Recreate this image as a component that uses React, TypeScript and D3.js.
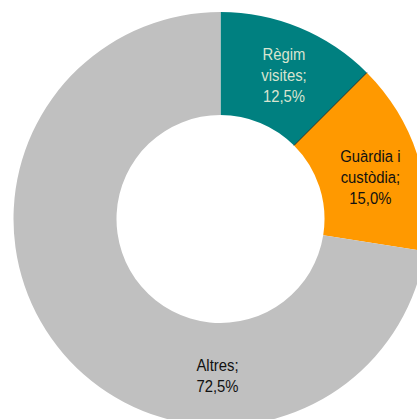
import React from "react";
import * as d3 from "d3";

const categories = ["Règim visites", "Guàrdia i custòdia", "Altres"];
const values = [12.5, 15.0, 72.5];
const valueLabels = ["12,5%", "15,0%", "72,5%"];
const labelLines = [["Règim", "visites;"], ["Guàrdia i", "custòdia;"], ["Altres;"]];
const colors = ["#008080", "#FF9900", "#C0C0C0"];
const labelColors = ["#D8E4D0", "#111111", "#111111"];

const W = 417;
const H = 419;
const cx = 220.5;
const cy = 219;
const rOuter = 207;
const rInner = 104;

export default function App() {
  const pie = d3.pie<number>().sort(null).value((d) => d)(values);
  const arc = d3.arc<d3.PieArcDatum<number>>().innerRadius(rInner).outerRadius(rOuter);
  const labelArc = d3.arc<d3.PieArcDatum<number>>().innerRadius(rInner).outerRadius(rOuter);
  const lineH = 21;

  // label anchor angle adjustments (Excel places the big slice label at the bottom)
  const labelPos = pie.map((p, i) => {
    if (i === 2) {
      const a = Math.PI; // bottom
      const r = 157;
      return [Math.sin(a) * r - 3, -Math.cos(a) * r];
    }
    const c = labelArc.centroid(p);
    return i === 0 ? [c[0] + 4, c[1]] : [c[0] + 2, c[1] + 6];
  });

  const boundary = pie[0].endAngle;

  return (
    <svg
      width={W}
      height={H}
      style={{ position: "absolute", left: 0, top: 0, background: "#fff" }}
      fontFamily="'Liberation Sans', Arial, sans-serif"
    >
      <g transform={`translate(${cx},${cy})`}>
        {pie.map((p, i) => (
          <path key={i} d={arc(p) || ""} fill={colors[i]} />
        ))}
        <line
          x1={Math.sin(boundary) * rInner}
          y1={-Math.cos(boundary) * rInner}
          x2={Math.sin(boundary) * rOuter}
          y2={-Math.cos(boundary) * rOuter}
          stroke="#1e2a22"
          strokeWidth={1}
        />
        {pie.map((p, i) => {
          const lines = [...labelLines[i], valueLabels[i]];
          const [lx, ly] = labelPos[i];
          const startY = -((lines.length - 1) * lineH) / 2;
          return (
            <g key={"t" + i} transform={`translate(${lx},${ly}) scale(0.9,1)`}>
              <text textAnchor="middle" fontSize={16.5} fill={labelColors[i]}>
                {lines.map((t, j) => (
                  <tspan key={j} x={0} y={startY + j * lineH} dy="0.36em">
                    {t}
                  </tspan>
                ))}
              </text>
            </g>
          );
        })}
      </g>
    </svg>
  );
}
